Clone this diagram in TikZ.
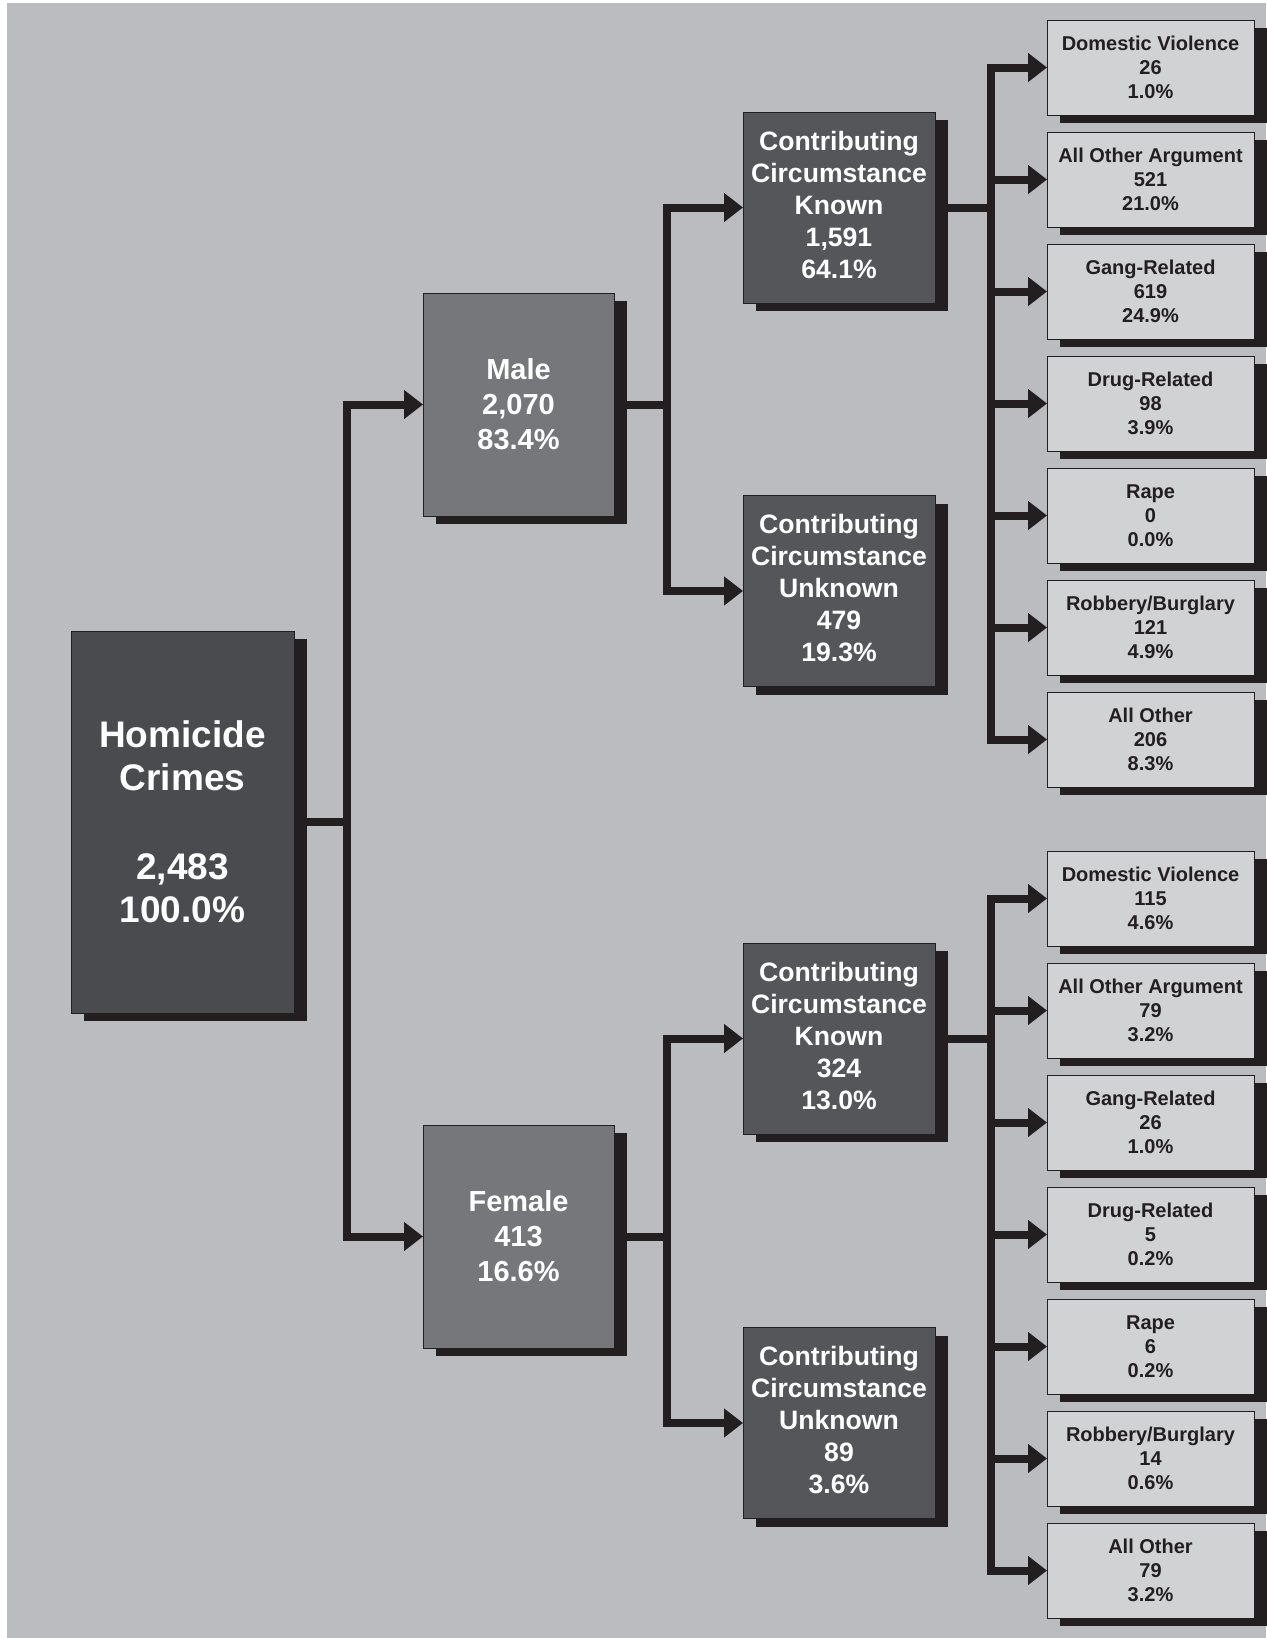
\documentclass[tikz,border=0pt]{standalone}
\usepackage{fontspec}
\setmainfont{Liberation Sans}
\usetikzlibrary{arrows.meta,shadows}
\definecolor{bgc}{HTML}{BBBCC0}
\definecolor{hcfill}{HTML}{4A4B4F}
\definecolor{sexfill}{HTML}{76777B}
\definecolor{ccfill}{HTML}{55565A}
\definecolor{leaffill}{HTML}{D1D2D4}
\definecolor{darkc}{HTML}{231F20}
\newcommand{\lowstrut}{\rule[-6pt]{0pt}{6pt}}
\begin{document}
\begin{tikzpicture}[x=1pt,y=-1pt,
  boxbase/.style={draw=darkc,line width=0.8pt,inner sep=0pt,outer sep=0pt,align=center,
    drop shadow={shadow xshift=13pt,shadow yshift=-8pt,fill=darkc,opacity=1}},
  hbox/.style={boxbase,fill=hcfill,text=white,minimum width=223pt,minimum height=382pt,
    font=\bfseries\fontsize{37}{43.5}\selectfont},
  sbox/.style={boxbase,fill=sexfill,text=white,minimum width=191pt,minimum height=223pt,
    font=\bfseries\fontsize{29}{35}\selectfont},
  cbox/.style={boxbase,fill=ccfill,text=white,minimum width=192pt,minimum height=191pt,
    font=\bfseries\fontsize{26.6}{32}\selectfont},
  lbox/.style={boxbase,fill=leaffill,text=darkc,minimum width=207pt,minimum height=95pt,
    font=\bfseries\fontsize{20}{24}\selectfont},
  conn/.style={draw=darkc,line width=8pt,line join=miter},
  arr/.style={conn,-{Triangle[length=19pt,width=28pt]}}
]
\useasboundingbox (0,0) rectangle (1266,1638);
\fill[bgc] (7,3) rectangle (1266,1638);

\node[hbox] (hc) at (182.5,822) {Homicide\\Crimes\\[45pt]2,483\\100.0\%};
\node[sbox] (male) at (518.5,404.5) {Male\\2,070\\83.4\%};
\node[sbox] (female) at (518.5,1236.5) {Female\\413\\16.6\%};

\node[cbox] (mk) at (839,207.5) {Contributing\\Circumstance\\Known\\1,591\\64.1\%\lowstrut};
\node[cbox] (mu) at (839,591) {Contributing\\Circumstance\\Unknown\\479\\19.3\%\lowstrut};
\node[cbox] (fk) at (839,1038.5) {Contributing\\Circumstance\\Known\\324\\13.0\%\lowstrut};
\node[cbox] (fu) at (839,1423) {Contributing\\Circumstance\\Unknown\\89\\3.6\%\lowstrut};

\node[lbox] (m1) at (1150.5,67.5) {Domestic Violence\\26\\1.0\%};
\node[lbox] (m2) at (1150.5,179.5) {All Other Argument\\521\\21.0\%};
\node[lbox] (m3) at (1150.5,291.5) {Gang-Related\\619\\24.9\%};
\node[lbox] (m4) at (1150.5,403.5) {Drug-Related\\98\\3.9\%};
\node[lbox] (m5) at (1150.5,515.5) {Rape\\0\\0.0\%};
\node[lbox] (m6) at (1150.5,627.5) {Robbery/Burglary\\121\\4.9\%};
\node[lbox] (m7) at (1150.5,739.5) {All Other\\206\\8.3\%};

\node[lbox] (f1) at (1150.5,898.5) {Domestic Violence\\115\\4.6\%};
\node[lbox] (f2) at (1150.5,1010.5) {All Other Argument\\79\\3.2\%};
\node[lbox] (f3) at (1150.5,1122.5) {Gang-Related\\26\\1.0\%};
\node[lbox] (f4) at (1150.5,1234.5) {Drug-Related\\5\\0.2\%};
\node[lbox] (f5) at (1150.5,1346.5) {Rape\\6\\0.2\%};
\node[lbox] (f6) at (1150.5,1458.5) {Robbery/Burglary\\14\\0.6\%};
\node[lbox] (f7) at (1150.5,1570.5) {All Other\\79\\3.2\%};

% connectors
\draw[conn] (hc.east) -- ++(53,0) coordinate (j0);
\draw[arr] (j0) |- (male.west);
\draw[arr] (j0) |- (female.west);

\draw[conn] (male.east) -- ++(53,0) coordinate (j1);
\draw[arr] (j1) |- (mk.west);
\draw[arr] (j1) |- (mu.west);

\draw[conn] (female.east) -- ++(53,0) coordinate (j2);
\draw[arr] (j2) |- (fk.west);
\draw[arr] (j2) |- (fu.west);

\draw[conn] (mk.east) -- ++(56,0) coordinate (j3);
\foreach \n in {m1,m2,m3,m4,m5,m6,m7} \draw[arr] (j3) |- (\n.west);

\draw[conn] (fk.east) -- ++(56,0) coordinate (j4);
\foreach \n in {f1,f2,f3,f4,f5,f6,f7} \draw[arr] (j4) |- (\n.west);
\end{tikzpicture}
\end{document}
